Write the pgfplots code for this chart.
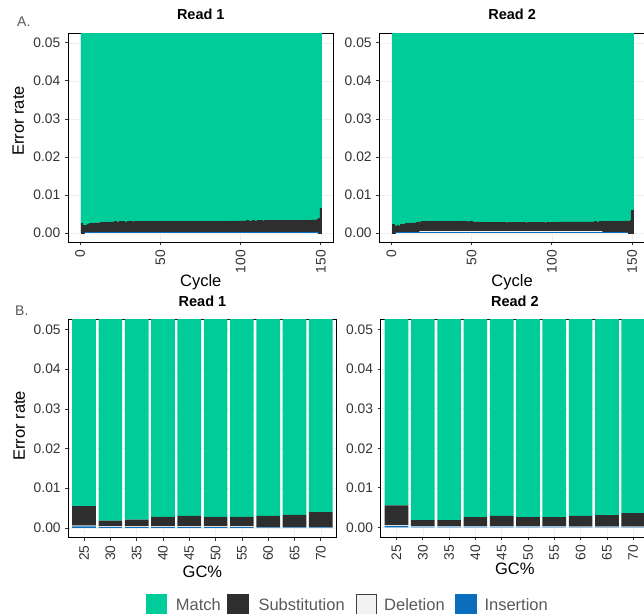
\documentclass[border=0pt]{standalone}
\usepackage{pgfplots}
\pgfplotsset{compat=1.18}
\usepackage{pgfplotstable}
\usepackage{fontspec}
\setmainfont{Liberation Sans}
\definecolor{cmatch}{HTML}{00CC99}
\definecolor{csub}{HTML}{2E2E2E}
\definecolor{cdel}{HTML}{F2F2F2}
\definecolor{cins}{HTML}{0A6EBD}

% Cycle data, Read 1: cycle, insertion, deletion, total error (top of substitution)
\pgfplotstableread[row sep=\\]{
c ins del tot\\
1 0 0 .0026\\ 2 0 0 .0020\\ 3 .0002 .00002 .0021\\ 4 .0002 .00002 .0020\\ 5 .0002 .00002 .0024\\
6 .0002 .00002 .0025\\ 7 .0002 .00002 .0026\\ 8 .0002 .00002 .0025\\ 9 .0002 .00002 .0026\\ 10 .0002 .00002 .0027\\
11 .0002 .00002 .0026\\ 12 .0002 .00002 .0027\\ 13 .0002 .00002 .0028\\ 14 .0002 .00002 .0027\\ 15 .0002 .00002 .0028\\
16 .0002 .00002 .0028\\ 17 .0002 .00002 .0029\\ 18 .0002 .00002 .0028\\ 19 .0002 .00002 .0028\\ 20 .0002 .00002 .0029\\
21 .0002 .00002 .0029\\ 22 .0002 .00002 .0030\\ 23 .0002 .00002 .0029\\ 24 .0002 .00002 .0029\\ 25 .0002 .00002 .0030\\
26 .0002 .00002 .0029\\ 27 .0002 .00002 .0030\\ 28 .0002 .00002 .0029\\ 29 .0002 .00002 .0029\\ 30 .0002 .00002 .0030\\
31 .0002 .00002 .0029\\ 32 .0002 .00002 .0030\\ 33 .0002 .00002 .0029\\ 34 .0002 .00002 .0030\\ 35 .0002 .00002 .0030\\
36 .0002 .00002 .0029\\ 37 .0002 .00002 .0030\\ 38 .0002 .00002 .0030\\ 39 .0002 .00002 .0029\\ 40 .0002 .00002 .0030\\
41 .0002 .00002 .0030\\ 42 .0002 .00002 .0030\\ 43 .0002 .00002 .0031\\ 44 .0002 .00002 .0030\\ 45 .0002 .00002 .0030\\
46 .0002 .00002 .0030\\ 47 .0002 .00002 .0029\\ 48 .0002 .00002 .0030\\ 49 .0002 .00002 .0030\\ 50 .0002 .00002 .0030\\
51 .0002 .00002 .0030\\ 52 .0002 .00002 .0031\\ 53 .0002 .00002 .0030\\ 54 .0002 .00002 .0030\\ 55 .0002 .00002 .0030\\
56 .0002 .00002 .0030\\ 57 .0002 .00002 .0030\\ 58 .0002 .00002 .0031\\ 59 .0002 .00002 .0030\\ 60 .0002 .00002 .0030\\
61 .0002 .00002 .0030\\ 62 .0002 .00002 .0030\\ 63 .0002 .00002 .0030\\ 64 .0002 .00002 .0031\\ 65 .0002 .00002 .0030\\
66 .0002 .00002 .0030\\ 67 .0002 .00002 .0030\\ 68 .0002 .00002 .0030\\ 69 .0002 .00002 .0030\\ 70 .0002 .00002 .0031\\
71 .0002 .00002 .0030\\ 72 .0002 .00002 .0030\\ 73 .0002 .00002 .0030\\ 74 .0002 .00002 .0030\\ 75 .0002 .00002 .0031\\
76 .0002 .00002 .0030\\ 77 .0002 .00002 .0030\\ 78 .0002 .00002 .0030\\ 79 .0002 .00002 .0031\\ 80 .0002 .00002 .0030\\
81 .0002 .00002 .0030\\ 82 .0002 .00002 .0031\\ 83 .0002 .00002 .0030\\ 84 .0002 .00002 .0030\\ 85 .0002 .00002 .0030\\
86 .0002 .00002 .0031\\ 87 .0002 .00002 .0030\\ 88 .0002 .00002 .0030\\ 89 .0002 .00002 .0031\\ 90 .0002 .00002 .0031\\
91 .0002 .00002 .0030\\ 92 .0002 .00002 .0031\\ 93 .0002 .00002 .0031\\ 94 .0002 .00002 .0031\\ 95 .0002 .00002 .0032\\
96 .0002 .00002 .0031\\ 97 .0002 .00002 .0032\\ 98 .0002 .00002 .0032\\ 99 .0002 .00002 .0031\\ 100 .0002 .00002 .0032\\
101 .0002 .00002 .0032\\ 102 .0002 .00002 .0032\\ 103 .0002 .00002 .0032\\ 104 .0002 .00002 .0033\\ 105 .0002 .00002 .0032\\
106 .0002 .00002 .0032\\ 107 .0002 .00002 .0032\\ 108 .0002 .00002 .0033\\ 109 .0002 .00002 .0032\\ 110 .0002 .00002 .0032\\
111 .0002 .00002 .0033\\ 112 .0002 .00002 .0032\\ 113 .0002 .00002 .0033\\ 114 .0002 .00002 .0032\\ 115 .0002 .00002 .0033\\
116 .0002 .00002 .0033\\ 117 .0002 .00002 .0032\\ 118 .0002 .00002 .0033\\ 119 .0002 .00002 .0033\\ 120 .0002 .00002 .0033\\
121 .0002 .00002 .0033\\ 122 .0002 .00002 .0034\\ 123 .0002 .00002 .0033\\ 124 .0002 .00002 .0033\\ 125 .0002 .00002 .0034\\
126 .0002 .00002 .0033\\ 127 .0002 .00002 .0034\\ 128 .0002 .00002 .0034\\ 129 .0002 .00002 .0033\\ 130 .0002 .00002 .0034\\
131 .0002 .00002 .0034\\ 132 .0002 .00002 .0033\\ 133 .0002 .00002 .0034\\ 134 .0002 .00002 .0034\\ 135 .0002 .00002 .0034\\
136 .0002 .00002 .0033\\ 137 .0002 .00002 .0034\\ 138 .0002 .00002 .0034\\ 139 .0002 .00002 .0034\\ 140 .0002 .00002 .0033\\
141 .0002 .00002 .0034\\ 142 .0002 .00002 .0034\\ 143 .0002 .00002 .0033\\ 144 .0002 .00002 .0034\\ 145 .0002 .00002 .0035\\
146 .0002 .00002 .0034\\ 147 .0002 .00002 .0035\\ 148 .0002 .00002 .0036\\ 149 0 0 .0038\\ 150 0 0 .0064\\
}\readA

% Cycle data, Read 2
\pgfplotstableread[row sep=\\]{
c ins del tot\\
1 0 0 .0022\\ 2 0 0 .0019\\ 3 .0002 .00003 .0019\\ 4 .0002 .00003 .0020\\ 5 .0002 .00003 .0019\\
6 .0002 .00003 .0022\\ 7 .0002 .00003 .0023\\ 8 .0002 .00003 .0023\\ 9 .0002 .00003 .0025\\ 10 .0002 .00003 .0026\\
11 .0002 .00003 .0025\\ 12 .0002 .00003 .0026\\ 13 .0002 .00003 .0026\\ 14 .0002 .00003 .0027\\ 15 .0002 .00003 .0027\\
16 .0002 .00003 .0028\\ 17 .0002 .00003 .0029\\ 18 .0002 .0003 .0029\\ 19 .0002 .0003 .0030\\ 20 .0002 .0003 .0030\\
21 .0002 .0003 .0030\\ 22 .0002 .0003 .0029\\ 23 .0002 .0003 .0030\\ 24 .0002 .0003 .0030\\ 25 .0002 .0003 .0031\\
26 .0002 .0003 .0030\\ 27 .0002 .0003 .0030\\ 28 .0002 .0003 .0030\\ 29 .0002 .0003 .0031\\ 30 .0002 .0003 .0030\\
31 .0002 .0003 .0030\\ 32 .0002 .0003 .0030\\ 33 .0002 .0003 .0030\\ 34 .0002 .0003 .0031\\ 35 .0002 .0003 .0030\\
36 .0002 .0003 .0030\\ 37 .0002 .0003 .0030\\ 38 .0002 .0003 .0030\\ 39 .0002 .0003 .0031\\ 40 .0002 .0003 .0030\\
41 .0002 .0003 .0030\\ 42 .0002 .0003 .0031\\ 43 .0002 .0003 .0030\\ 44 .0002 .0003 .0030\\ 45 .0002 .0003 .0032\\
46 .0002 .0003 .0030\\ 47 .0002 .0003 .0030\\ 48 .0002 .0003 .0029\\ 49 .0002 .0003 .0030\\ 50 .0002 .0003 .0030\\
51 .0002 .0003 .0029\\ 52 .0002 .0003 .0029\\ 53 .0002 .0003 .0029\\ 54 .0002 .0003 .0029\\ 55 .0002 .0003 .0029\\
56 .0002 .0003 .0028\\ 57 .0002 .0003 .0029\\ 58 .0002 .0003 .0028\\ 59 .0002 .0003 .0029\\ 60 .0002 .0003 .0028\\
61 .0002 .0003 .0028\\ 62 .0002 .0003 .0029\\ 63 .0002 .0003 .0028\\ 64 .0002 .0003 .0028\\ 65 .0002 .0003 .0028\\
66 .0002 .0003 .0028\\ 67 .0002 .0003 .0029\\ 68 .0002 .0003 .0028\\ 69 .0002 .0003 .0028\\ 70 .0002 .0003 .0028\\
71 .0002 .0003 .0028\\ 72 .0002 .0003 .0027\\ 73 .0002 .0003 .0028\\ 74 .0002 .0003 .0028\\ 75 .0002 .0003 .0028\\
76 .0002 .0003 .0028\\ 77 .0002 .0003 .0028\\ 78 .0002 .0003 .0028\\ 79 .0002 .0003 .0028\\ 80 .0002 .0003 .0028\\
81 .0002 .0003 .0028\\ 82 .0002 .0003 .0028\\ 83 .0002 .0003 .0028\\ 84 .0002 .0003 .0027\\ 85 .0002 .0003 .0028\\
86 .0002 .0003 .0028\\ 87 .0002 .0003 .0028\\ 88 .0002 .0003 .0028\\ 89 .0002 .0003 .0028\\ 90 .0002 .0003 .0028\\
91 .0002 .0003 .0028\\ 92 .0002 .0003 .0028\\ 93 .0002 .0003 .0028\\ 94 .0002 .0003 .0028\\ 95 .0002 .0003 .0028\\
96 .0002 .0003 .0027\\ 97 .0002 .0003 .0028\\ 98 .0002 .0003 .0028\\ 99 .0002 .0003 .0028\\ 100 .0002 .0003 .0028\\
101 .0002 .0003 .0028\\ 102 .0002 .0003 .0029\\ 103 .0002 .0003 .0029\\ 104 .0002 .0003 .0028\\ 105 .0002 .0003 .0029\\
106 .0002 .0003 .0029\\ 107 .0002 .0003 .0029\\ 108 .0002 .0003 .0029\\ 109 .0002 .0003 .0029\\ 110 .0002 .0003 .0029\\
111 .0002 .0003 .0029\\ 112 .0002 .0003 .0029\\ 113 .0002 .0003 .0029\\ 114 .0002 .0003 .0029\\ 115 .0002 .0003 .0029\\
116 .0002 .0003 .0029\\ 117 .0002 .0003 .0029\\ 118 .0002 .0003 .0029\\ 119 .0002 .0003 .0029\\ 120 .0002 .0003 .0029\\
121 .0002 .0003 .0029\\ 122 .0002 .0003 .0029\\ 123 .0002 .0003 .0029\\ 124 .0002 .0003 .0029\\ 125 .0002 .0003 .0029\\
126 .0002 .0003 .0029\\ 127 .0002 .0003 .0030\\ 128 .0002 .0003 .0029\\ 129 .0002 .0003 .0029\\ 130 .0002 .0003 .0030\\
131 .0002 .0003 .0030\\ 132 .0002 .00003 .0030\\ 133 .0002 .00003 .0030\\ 134 .0002 .00003 .0030\\ 135 .0002 .00003 .0031\\
136 .0002 .00003 .0030\\ 137 .0002 .00003 .0030\\ 138 .0002 .00003 .0031\\ 139 .0002 .00003 .0030\\ 140 .0002 .00003 .0031\\
141 .0002 .00003 .0031\\ 142 .0002 .00003 .0031\\ 143 .0002 .00003 .0031\\ 144 .0002 .00003 .0031\\ 145 .0002 .00003 .0031\\
146 .0002 .00003 .0032\\ 147 .0002 .00003 .0032\\ 148 0 0 .0031\\ 149 0 0 .0034\\ 150 0 0 .0061\\
}\readB

% GC% data
\pgfplotstableread[row sep=\\]{
gc ins del tot\\
25 .0004 .0002 .0055\\ 30 .0002 .00015 .00185\\ 35 .0002 .00015 .0021\\ 40 .0002 .00015 .0028\\ 45 .0002 .00015 .0030\\
50 .0002 .00015 .0028\\ 55 .0002 .00015 .0028\\ 60 .00015 .00003 .0030\\ 65 .00015 .00003 .0033\\ 70 .00015 .00003 .0040\\
}\gcA
\pgfplotstableread[row sep=\\]{
gc ins del tot\\
25 .0004 .0002 .0056\\ 30 .0002 .00015 .00185\\ 35 .0002 .00015 .00185\\ 40 .0002 .00015 .0026\\ 45 .0002 .00015 .0029\\
50 .0002 .00015 .0026\\ 55 .0002 .00015 .0026\\ 60 .00015 .00003 .0029\\ 65 .00015 .00003 .0031\\ 70 .00015 .00003 .0036\\
}\gcB

\pgfplotsset{
  panel/.style={
    scale only axis, anchor=south west,
    ybar stacked,
    ymin=-0.0025, ymax=0.0525,
    ytick={0,0.01,0.02,0.03,0.04,0.05},
    scaled y ticks=false,
    /pgf/number format/assume math mode=true,
    yticklabel style={/pgf/number format/fixed, /pgf/number format/fixed zerofill, /pgf/number format/precision=2, inner sep=0pt},
    xticklabel style={rotate=90, anchor=east, inner sep=0pt},
    ticklabel shift=4.5pt,
    ticklabel style={font=\fontsize{13.8}{15}\selectfont, text=black!80},
    tick align=outside, tick pos=left,
    major tick length=3pt,
    tick style={black!80, line width=0.7pt},
    axis line style={black, line width=1pt},
    grid=major, major grid style={gray!12, line width=0.5pt},
    title style={font=\bfseries\fontsize{14.5}{16}\selectfont, at={(0.5,1)}, anchor=base, yshift=7.3pt},
    label style={font=\fontsize{16.5}{18}\selectfont},
  },
  cyc/.style={xmin=-7.5, xmax=158, xtick={0,50,100,150}, bar width=1,
    width=265.6pt, height=209.2pt,
    xlabel style={at={(axis description cs:0.5,-0.2113)}, anchor=base}},
  gcp/.style={xmin=22, xmax=73, xtick={25,30,35,40,45,50,55,60,65,70}, bar width=4.5,
    width=268.3pt},
}

\begin{document}
\begin{tikzpicture}
\useasboundingbox (0,0) rectangle (644pt,613pt);

% ---------- A, Read 1 ----------
\begin{axis}[panel, cyc, at={(68pt,370.5pt)}, title={Read 1}, xlabel={Cycle}, ylabel={Error rate},
  ylabel style={at={(axis description cs:-0.1657,0.581)}, anchor=base}]
\addplot[fill=cins, draw=none] table[x=c, y=ins]{\readA};
\addplot[fill=cdel, draw=none] table[x=c, y=del]{\readA};
\addplot[fill=csub, draw=csub, line width=0.3pt] table[x=c, y expr=\thisrow{tot}-\thisrow{ins}-\thisrow{del}]{\readA};
\addplot[fill=cmatch, draw=cmatch, line width=0.3pt] table[x=c, y expr=1-\thisrow{tot}]{\readA};
\end{axis}

% ---------- A, Read 2 ----------
\begin{axis}[panel, cyc, at={(379.3pt,370.5pt)}, title={Read 2}, xlabel={Cycle}]
\addplot[fill=cins, draw=none] table[x=c, y=ins]{\readB};
\addplot[fill=cdel, draw=none] table[x=c, y=del]{\readB};
\addplot[fill=csub, draw=csub, line width=0.3pt] table[x=c, y expr=\thisrow{tot}-\thisrow{ins}-\thisrow{del}]{\readB};
\addplot[fill=cmatch, draw=cmatch, line width=0.3pt] table[x=c, y expr=1-\thisrow{tot}]{\readB};
\end{axis}

% ---------- B, Read 1 ----------
\begin{axis}[panel, gcp, at={(68.3pt,75.2pt)}, height=218.2pt, title={Read 1}, xlabel={GC\%}, ylabel={Error rate},
  xlabel style={at={(axis description cs:0.5,-0.181)}, anchor=base},
  ylabel style={at={(axis description cs:-0.1614,0.513)}, anchor=base}]
\addplot[fill=cins, draw=none] table[x=gc, y=ins]{\gcA};
\addplot[fill=cdel, draw=none] table[x=gc, y=del]{\gcA};
\addplot[fill=csub, draw=none] table[x=gc, y expr=\thisrow{tot}-\thisrow{ins}-\thisrow{del}]{\gcA};
\addplot[fill=cmatch, draw=none] table[x=gc, y expr=1-\thisrow{tot}]{\gcA};
\end{axis}

% ---------- B, Read 2 ----------
\begin{axis}[panel, gcp, at={(380.7pt,75.7pt)}, height=217.6pt, title={Read 2}, xlabel={GC\%},
  xlabel style={at={(axis description cs:0.5,-0.169)}, anchor=base}]
\addplot[fill=cins, draw=none] table[x=gc, y=ins]{\gcB};
\addplot[fill=cdel, draw=none] table[x=gc, y=del]{\gcB};
\addplot[fill=csub, draw=none] table[x=gc, y expr=\thisrow{tot}-\thisrow{ins}-\thisrow{del}]{\gcB};
\addplot[fill=cmatch, draw=none] table[x=gc, y expr=1-\thisrow{tot}]{\gcB};
\end{axis}

% ---------- legend ----------
\begin{scope}[every node/.style={anchor=base west, inner sep=0pt, text=black!65, font=\fontsize{16.5}{18}\selectfont}]
\fill[cmatch] (146pt,-2pt) rectangle (167.3pt,19pt);
\node at (175.7pt,2.3pt) {Match};
\fill[csub] (226.7pt,-2pt) rectangle (249.3pt,19pt);
\node at (258.3pt,2.3pt) {Substitution};
\filldraw[fill=cdel, draw=black!75, line width=0.7pt] (356.35pt,-1.65pt) rectangle (376.35pt,18.65pt);
\node at (384pt,2.3pt) {Deletion};
\fill[cins] (455pt,-2pt) rectangle (476.7pt,19pt);
\node at (484.3pt,2.3pt) {Insertion};
\end{scope}

\node[anchor=base west, text=black!65, font=\fontsize{14}{16}\selectfont, inner sep=0pt] at (17pt,586.3pt) {A.};
\node[anchor=base west, text=black!65, font=\fontsize{14}{16}\selectfont, inner sep=0pt] at (15pt,297pt) {B.};
\end{tikzpicture}
\end{document}
